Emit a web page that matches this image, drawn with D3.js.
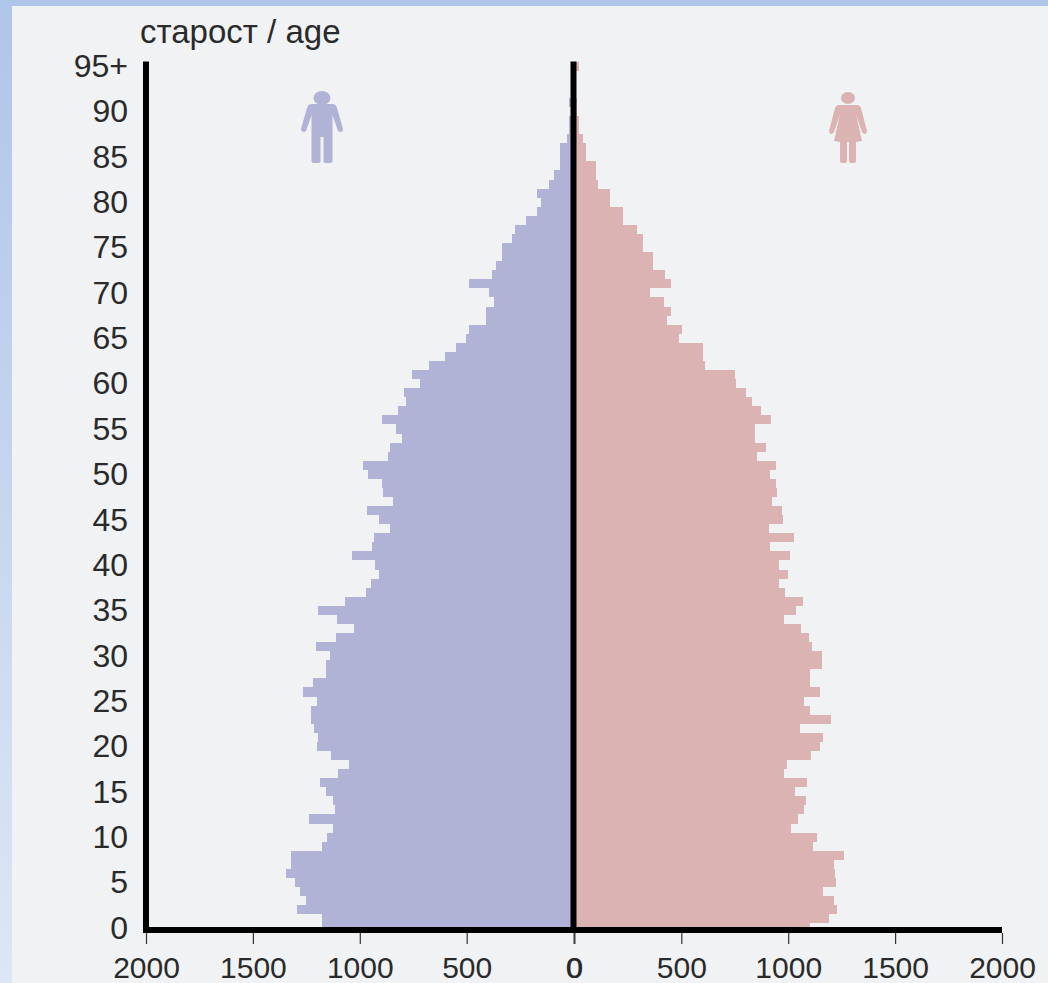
<!DOCTYPE html>
<html>
<head>
<meta charset="utf-8">
<script src="https://cdn.jsdelivr.net/npm/d3@7"></script>
<style>
html, body { margin: 0; padding: 0; width: 1048px; height: 983px; overflow: hidden; }
body { background: linear-gradient(#afc5e9, #dde6f5); }
svg { position: absolute; left: 0; top: 0; display: block; }
text { font-family: "Liberation Sans", Arial, sans-serif; fill: #2a2a2a; }
</style>
</head>
<body>
<div id="chart"></div>
<script>
// population by single year of age, index 0 = age 0, last = 95+
const male = [
  1176, 1176, 1296, 1252, 1280, 1302, 1347, 1324, 1324, 1176,
  1153, 1125, 1237, 1117, 1125, 1156, 1184, 1103, 1051, 1137,
  1198, 1195, 1214, 1229, 1229, 1198, 1266, 1221, 1156, 1156,
  1140, 1207, 1112, 1028, 1106, 1196, 1067, 969, 947, 911,
  930, 1037, 945, 933, 860, 911, 964, 844, 891, 896,
  961, 985, 866, 860, 802, 829, 896, 821, 785, 791,
  720, 756, 676, 603, 548, 505, 489, 408, 408, 374,
  396, 489, 380, 364, 333, 333, 290, 276, 224, 171,
  151, 171, 115, 93, 62, 62, 62, 31, 23, 23,
  10, 23, 10, 6, 4, 4
];
const female = [
  1100, 1193, 1230, 1215, 1165, 1224, 1218, 1215, 1262, 1115,
  1137, 1013, 1045, 1075, 1083, 1033, 1090, 981, 994, 1106,
  1150, 1165, 1053, 1201, 1100, 1076, 1150, 1103, 1103, 1157,
  1157, 1111, 1098, 1061, 981, 1037, 1069, 986, 959, 1001,
  959, 1009, 913, 1029, 908, 978, 971, 924, 947, 944,
  913, 943, 854, 897, 846, 846, 921, 874, 830, 804,
  757, 752, 610, 603, 603, 491, 503, 433, 453, 417,
  352, 453, 425, 369, 369, 322, 322, 293, 226, 226,
  165, 165, 112, 103, 103, 56, 56, 41, 23, 23,
  14, 14, 9, 9, 9, 23
];
const ageTicks = [0, 5, 10, 15, 20, 25, 30, 35, 40, 45, 50, 55, 60, 65, 70, 75, 80, 85, 90, 95];
const popTicks = [0, 500, 1000, 1500, 2000];

const W = 1048, H = 983;
const maleColor = "#b0b2d6", femaleColor = "#dbb3b2";

const svg = d3.select("#chart").append("svg")
  .attr("width", W)
  .attr("height", H);

// panel
svg.append("rect")
  .attr("x", 12).attr("y", 6)
  .attr("width", W - 12).attr("height", H - 6)
  .attr("fill", "#f0f2f4");

// scales
const y = d3.scaleBand().domain(d3.range(male.length)).range([932.4, 61.6]);
const xMale = d3.scaleLinear().domain([0, 2000]).range([573.6, 146]);
const xFemale = d3.scaleLinear().domain([0, 2000]).range([574.4, 1002]);

// bars
svg.append("g").attr("shape-rendering", "crispEdges").selectAll("rect")
  .data(male)
  .enter().append("rect")
  .attr("x", d => xMale(d))
  .attr("y", (d, i) => y(i))
  .attr("width", d => xMale(0) - xMale(d))
  .attr("height", y.bandwidth())
  .attr("fill", maleColor);

svg.append("g").attr("shape-rendering", "crispEdges").selectAll("rect")
  .data(female)
  .enter().append("rect")
  .attr("x", xFemale(0))
  .attr("y", (d, i) => y(i))
  .attr("width", d => xFemale(d) - xFemale(0))
  .attr("height", y.bandwidth())
  .attr("fill", femaleColor);

// age axis
const yAxis = d3.axisLeft(y)
  .tickValues(ageTicks)
  .tickSize(0)
  .tickPadding(18)
  .tickFormat(d => d === 95 ? "95+" : d);

const yG = svg.append("g")
  .attr("transform", "translate(146,0.6)")
  .call(yAxis);
yG.select(".domain").remove();
yG.attr("font-family", null);
yG.selectAll("text").style("font-size", "32px");

// population axes (the two zeros sit almost on top of each other)
[xMale, xFemale].forEach(x => {
  const g = svg.append("g")
    .attr("transform", "translate(0,933)")
    .call(d3.axisBottom(x).tickValues(popTicks).tickSize(11).tickPadding(13).tickFormat(d3.format("d")));
  g.attr("font-family", null);
  g.select(".domain").remove();
  g.selectAll("line").attr("stroke", "#333").attr("stroke-width", 1.2);
  g.selectAll("text").style("font-size", "30px");
});

// thick axis lines
svg.append("line").attr("x1", xMale(2000)).attr("x2", xMale(2000))
  .attr("y1", y.range()[1]).attr("y2", 933)
  .attr("stroke", "#000").attr("stroke-width", 6);
svg.append("line").attr("x1", xMale(2000) - 3).attr("x2", xFemale(2000))
  .attr("y1", 930).attr("y2", 930)
  .attr("stroke", "#000").attr("stroke-width", 6);
svg.append("line").attr("x1", 573.5).attr("x2", 573.5)
  .attr("y1", y.range()[1]).attr("y2", 930)
  .attr("stroke", "#000").attr("stroke-width", 6);

// title
svg.append("text")
  .attr("x", 140)
  .attr("y", 43)
  .style("font-size", "33px")
  .text("старост / age");

// icons, drawn around (0,0) at the head centre
const man = svg.append("g")
  .attr("transform", "translate(322,98)")
  .attr("fill", maleColor);
man.append("ellipse").attr("rx", 8.5).attr("ry", 7);
man.append("path").attr("d",
  "M-10,6 L10,6 Q14,6 15,10 L21,31 Q21,34 18,34 L16,33 L10.5,17 L10.5,63 Q10.5,65 8,65 L3.5,65 Q1.5,65 1.5,63 L1.5,39 L-1.5,39 L-1.5,63 Q-1.5,65 -3.5,65 L-8,65 Q-10.5,65 -10.5,63 L-10.5,17 L-16,33 L-18,34 Q-21,34 -21,31 L-15,10 Q-14,6 -10,6 Z");

const woman = svg.append("g")
  .attr("transform", "translate(848,98)")
  .attr("fill", femaleColor);
woman.append("ellipse").attr("rx", 7).attr("ry", 6);
woman.append("path").attr("d",
  "M-9,7 L9,7 Q12,7 13,10 L19,33 Q19,36 16,36 L14,34 L8,16 L14,43 L8,44 L8,63 Q8,65 6,65 L3,65 Q1,65 1,63 L1,44 L-1,44 L-1,63 Q-1,65 -3,65 L-6,65 Q-8,65 -8,63 L-8,44 L-14,43 L-8,16 L-14,34 L-16,36 Q-19,36 -19,33 L-13,10 Q-12,7 -9,7 Z");
</script>
</body>
</html>
